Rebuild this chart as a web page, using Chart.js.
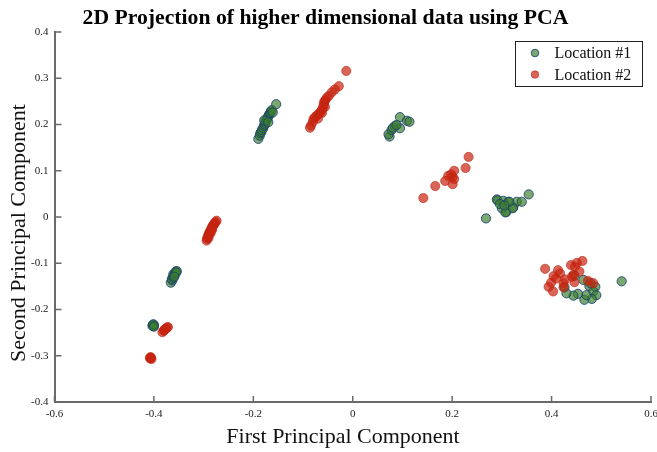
<!DOCTYPE html>
<html>
<head>
<meta charset="utf-8">
<script src="https://cdn.jsdelivr.net/npm/chart.js@4"></script>
<style>
html,body{margin:0;padding:0;background:#fff;}
#wrap{width:657px;height:452px;}
</style>
</head>
<body>
<div id="wrap"><canvas id="c" width="657" height="452"></canvas></div>
<script>
const chartTitle = "2D Projection of higher dimensional data using PCA";
const xAxisTitle = "First Principal Component";
const yAxisTitle = "Second Principal Component";
const seriesLabels = ["Location #1", "Location #2"];
const xTicks = [-0.6, -0.4, -0.2, 0, 0.2, 0.4, 0.6];
const yTicks = [-0.4, -0.3, -0.2, -0.1, 0, 0.1, 0.2, 0.3, 0.4];

const loc1X = [
  -0.402,-0.401,-0.400,-0.403,-0.401,-0.400,
  -0.366,-0.363,-0.364,-0.361,-0.360,-0.361,-0.358,-0.357,-0.356,-0.354,-0.355,-0.359,
  -0.190,-0.187,-0.186,-0.184,-0.183,-0.180,-0.179,-0.177,-0.176,-0.175,-0.173,-0.172,-0.171,-0.169,-0.168,-0.166,-0.165,-0.163,-0.161,-0.154,-0.178,-0.170,
  0.074,0.072,0.078,0.085,0.095,0.095,0.109,0.114,0.081,0.088,
  0.268,0.290,0.291,0.303,0.313,0.323,0.309,0.300,0.330,0.354,0.340,0.307,0.322,0.315,0.296,0.305,
  0.541,0.464,0.476,0.488,0.484,0.490,0.481,0.466,0.470,0.453,0.444,0.430,0.426,0.446,0.478
];
const loc1Y = [
  -0.233,-0.236,-0.234,-0.235,-0.232,-0.237,
  -0.142,-0.137,-0.134,-0.131,-0.127,-0.124,-0.125,-0.121,-0.118,-0.117,-0.120,-0.129,
  0.169,0.176,0.181,0.184,0.188,0.192,0.197,0.200,0.204,0.208,0.210,0.213,0.216,0.219,0.222,0.225,0.228,0.231,0.226,0.244,0.209,0.205,
  0.174,0.179,0.188,0.197,0.192,0.216,0.208,0.206,0.193,0.199,
  -0.003,0.038,0.036,0.035,0.033,0.021,0.011,0.019,0.033,0.049,0.033,0.010,0.019,0.033,0.028,0.025,
  -0.139,-0.136,-0.149,-0.151,-0.161,-0.169,-0.177,-0.179,-0.169,-0.166,-0.170,-0.165,-0.152,-0.127,-0.143
];
const loc2X = [
  -0.407,-0.406,-0.408,-0.405,-0.407,
  -0.383,-0.380,-0.378,-0.376,-0.373,-0.372,-0.379,
  -0.294,-0.293,-0.292,-0.291,-0.290,-0.289,-0.288,-0.287,-0.286,-0.285,-0.284,-0.283,-0.282,-0.281,-0.280,-0.279,-0.278,-0.276,-0.274,-0.290,-0.286,-0.283,
  -0.086,-0.084,-0.080,-0.079,-0.076,-0.072,-0.068,-0.066,-0.063,-0.061,-0.059,-0.058,-0.057,-0.055,-0.052,-0.048,-0.042,-0.036,-0.028,-0.013,-0.070,-0.062,-0.056,
  0.233,0.227,0.204,0.192,0.201,0.204,0.186,0.201,0.166,0.142,0.198,
  0.387,0.413,0.439,0.451,0.462,0.447,0.404,0.417,0.409,0.427,0.444,0.456,0.399,0.394,0.403,0.424,0.446,0.473,0.484,0.424,0.441
];
const loc2Y = [
  -0.306,-0.304,-0.305,-0.307,-0.303,
  -0.249,-0.246,-0.243,-0.241,-0.239,-0.238,-0.244,
  -0.051,-0.047,-0.044,-0.041,-0.038,-0.036,-0.033,-0.031,-0.029,-0.027,-0.025,-0.022,-0.020,-0.019,-0.017,-0.015,-0.014,-0.011,-0.008,-0.045,-0.035,-0.028,
  0.193,0.198,0.206,0.212,0.216,0.220,0.223,0.226,0.230,0.234,0.240,0.246,0.250,0.253,0.258,0.262,0.270,0.276,0.283,0.316,0.213,0.225,0.238,
  0.130,0.106,0.100,0.089,0.087,0.082,0.078,0.071,0.067,0.041,0.092,
  -0.112,-0.115,-0.104,-0.099,-0.095,-0.107,-0.128,-0.122,-0.133,-0.135,-0.125,-0.118,-0.142,-0.151,-0.161,-0.143,-0.141,-0.138,-0.143,-0.152,-0.129
];

const toPts = (xs, ys) => xs.map((x, i) => ({x: x, y: ys[i]}));

const SERIF = "'Liberation Serif','Times New Roman',serif";
const AXIS_COLOR = '#6a6a6a';

const inwardTicks = {
  id: 'inwardTicks',
  afterDraw(chart) {
    const ctx = chart.ctx;
    const xs = chart.scales.x, ys = chart.scales.y;
    ctx.save();
    ctx.strokeStyle = AXIS_COLOR;
    ctx.lineWidth = 1.5;
    ctx.beginPath();
    xTicks.forEach(v => {
      const px = xs.getPixelForValue(v);
      ctx.moveTo(px, ys.bottom);
      ctx.lineTo(px, ys.bottom - 6);
    });
    yTicks.forEach(v => {
      const py = ys.getPixelForValue(v);
      ctx.moveTo(xs.left, py);
      ctx.lineTo(xs.left + 7, py);
    });
    ctx.stroke();
    ctx.restore();
  }
};

const axisTitles = {
  id: 'axisTitles',
  afterDraw(chart) {
    const ctx = chart.ctx;
    ctx.save();
    ctx.fillStyle = '#111';
    ctx.font = "22px " + SERIF;
    ctx.textAlign = 'center';
    ctx.textBaseline = 'alphabetic';
    ctx.fillText(xAxisTitle, 343, 443);
    ctx.translate(25, 233);
    ctx.rotate(-Math.PI / 2);
    ctx.fillText(yAxisTitle, 0, 0);
    ctx.restore();
  }
};

const boxLegend = {
  id: 'boxLegend',
  afterDraw(chart) {
    const ctx = chart.ctx;
    const ca = chart.chartArea;
    const w = 127, h = 45;
    const bx = ca.right - 9 - w, by = ca.top + 9;
    ctx.save();
    ctx.fillStyle = '#ffffff';
    ctx.fillRect(bx, by, w, h);
    ctx.strokeStyle = '#222';
    ctx.lineWidth = 1;
    ctx.strokeRect(Math.round(bx) + 0.5, Math.round(by) + 0.5, w, h);
    ctx.font = "16px " + SERIF;
    ctx.textBaseline = 'middle';
    ctx.textAlign = 'left';
    chart.data.datasets.forEach((ds, i) => {
      const cy = by + 12 + i * 21.5;
      ctx.beginPath();
      ctx.arc(bx + 20, cy, 3.8, 0, Math.PI * 2);
      ctx.fillStyle = ds.backgroundColor;
      ctx.fill();
      ctx.lineWidth = 1;
      ctx.strokeStyle = ds.borderColor;
      ctx.stroke();
      ctx.fillStyle = '#111';
      ctx.fillText(ds.label, bx + 39.5, cy + 1);
    });
    ctx.restore();
  }
};

new Chart(document.getElementById('c'), {
  type: 'scatter',
  data: {
    datasets: [
      {
        label: seriesLabels[0],
        data: toPts(loc1X, loc1Y),
        backgroundColor: 'rgba(60,125,45,0.68)',
        borderColor: 'rgba(25,65,110,0.85)',
        borderWidth: 1,
        pointRadius: 4.6,
        pointHoverRadius: 4.6,
        order: 1
      },
      {
        label: seriesLabels[1],
        data: toPts(loc2X, loc2Y),
        backgroundColor: 'rgba(200,35,15,0.7)',
        borderColor: 'rgba(190,40,20,0.6)',
        borderWidth: 1,
        pointRadius: 4.6,
        pointHoverRadius: 4.6,
        order: 0
      }
    ]
  },
  options: {
    responsive: false,
    animation: false,
    devicePixelRatio: 1,
    layout: { padding: { left: 0, right: 6, top: 0, bottom: 0 } },
    plugins: {
      legend: { display: false },
      tooltip: { enabled: false },
      title: {
        display: true,
        text: chartTitle,
        color: '#000',
        font: { family: SERIF, size: 21.7, weight: 'bold' },
        padding: { top: 5, bottom: 1 }
      }
    },
    scales: {
      x: {
        type: 'linear',
        min: -0.6, max: 0.6,
        afterBuildTicks: s => { s.ticks = xTicks.map(v => ({value: v})); },
        afterFit: s => { s.height = 50; s.paddingLeft = 0; s.paddingRight = 0; },
        grid: { display: false, drawTicks: false, tickLength: 0 },
        border: { display: true, color: AXIS_COLOR, width: 2 },
        ticks: {
          color: '#222',
          font: { family: SERIF, size: 11 },
          padding: 6,
          maxRotation: 0,
          callback: v => String(Math.round(v * 10) / 10)
        },
        title: { display: false, text: xAxisTitle }
      },
      y: {
        type: 'linear',
        min: -0.4, max: 0.4,
        afterBuildTicks: s => { s.ticks = yTicks.map(v => ({value: v})); },
        afterFit: s => { s.width = 54.5; s.paddingTop = 0; s.paddingBottom = 0; },
        grid: { display: false, drawTicks: false, tickLength: 0 },
        border: { display: true, color: AXIS_COLOR, width: 2 },
        ticks: {
          color: '#222',
          font: { family: SERIF, size: 11 },
          padding: 6,
          callback: v => String(Math.round(v * 10) / 10)
        },
        title: { display: false, text: yAxisTitle }
      }
    }
  },
  plugins: [inwardTicks, axisTitles, boxLegend]
});
</script>
</body>
</html>
